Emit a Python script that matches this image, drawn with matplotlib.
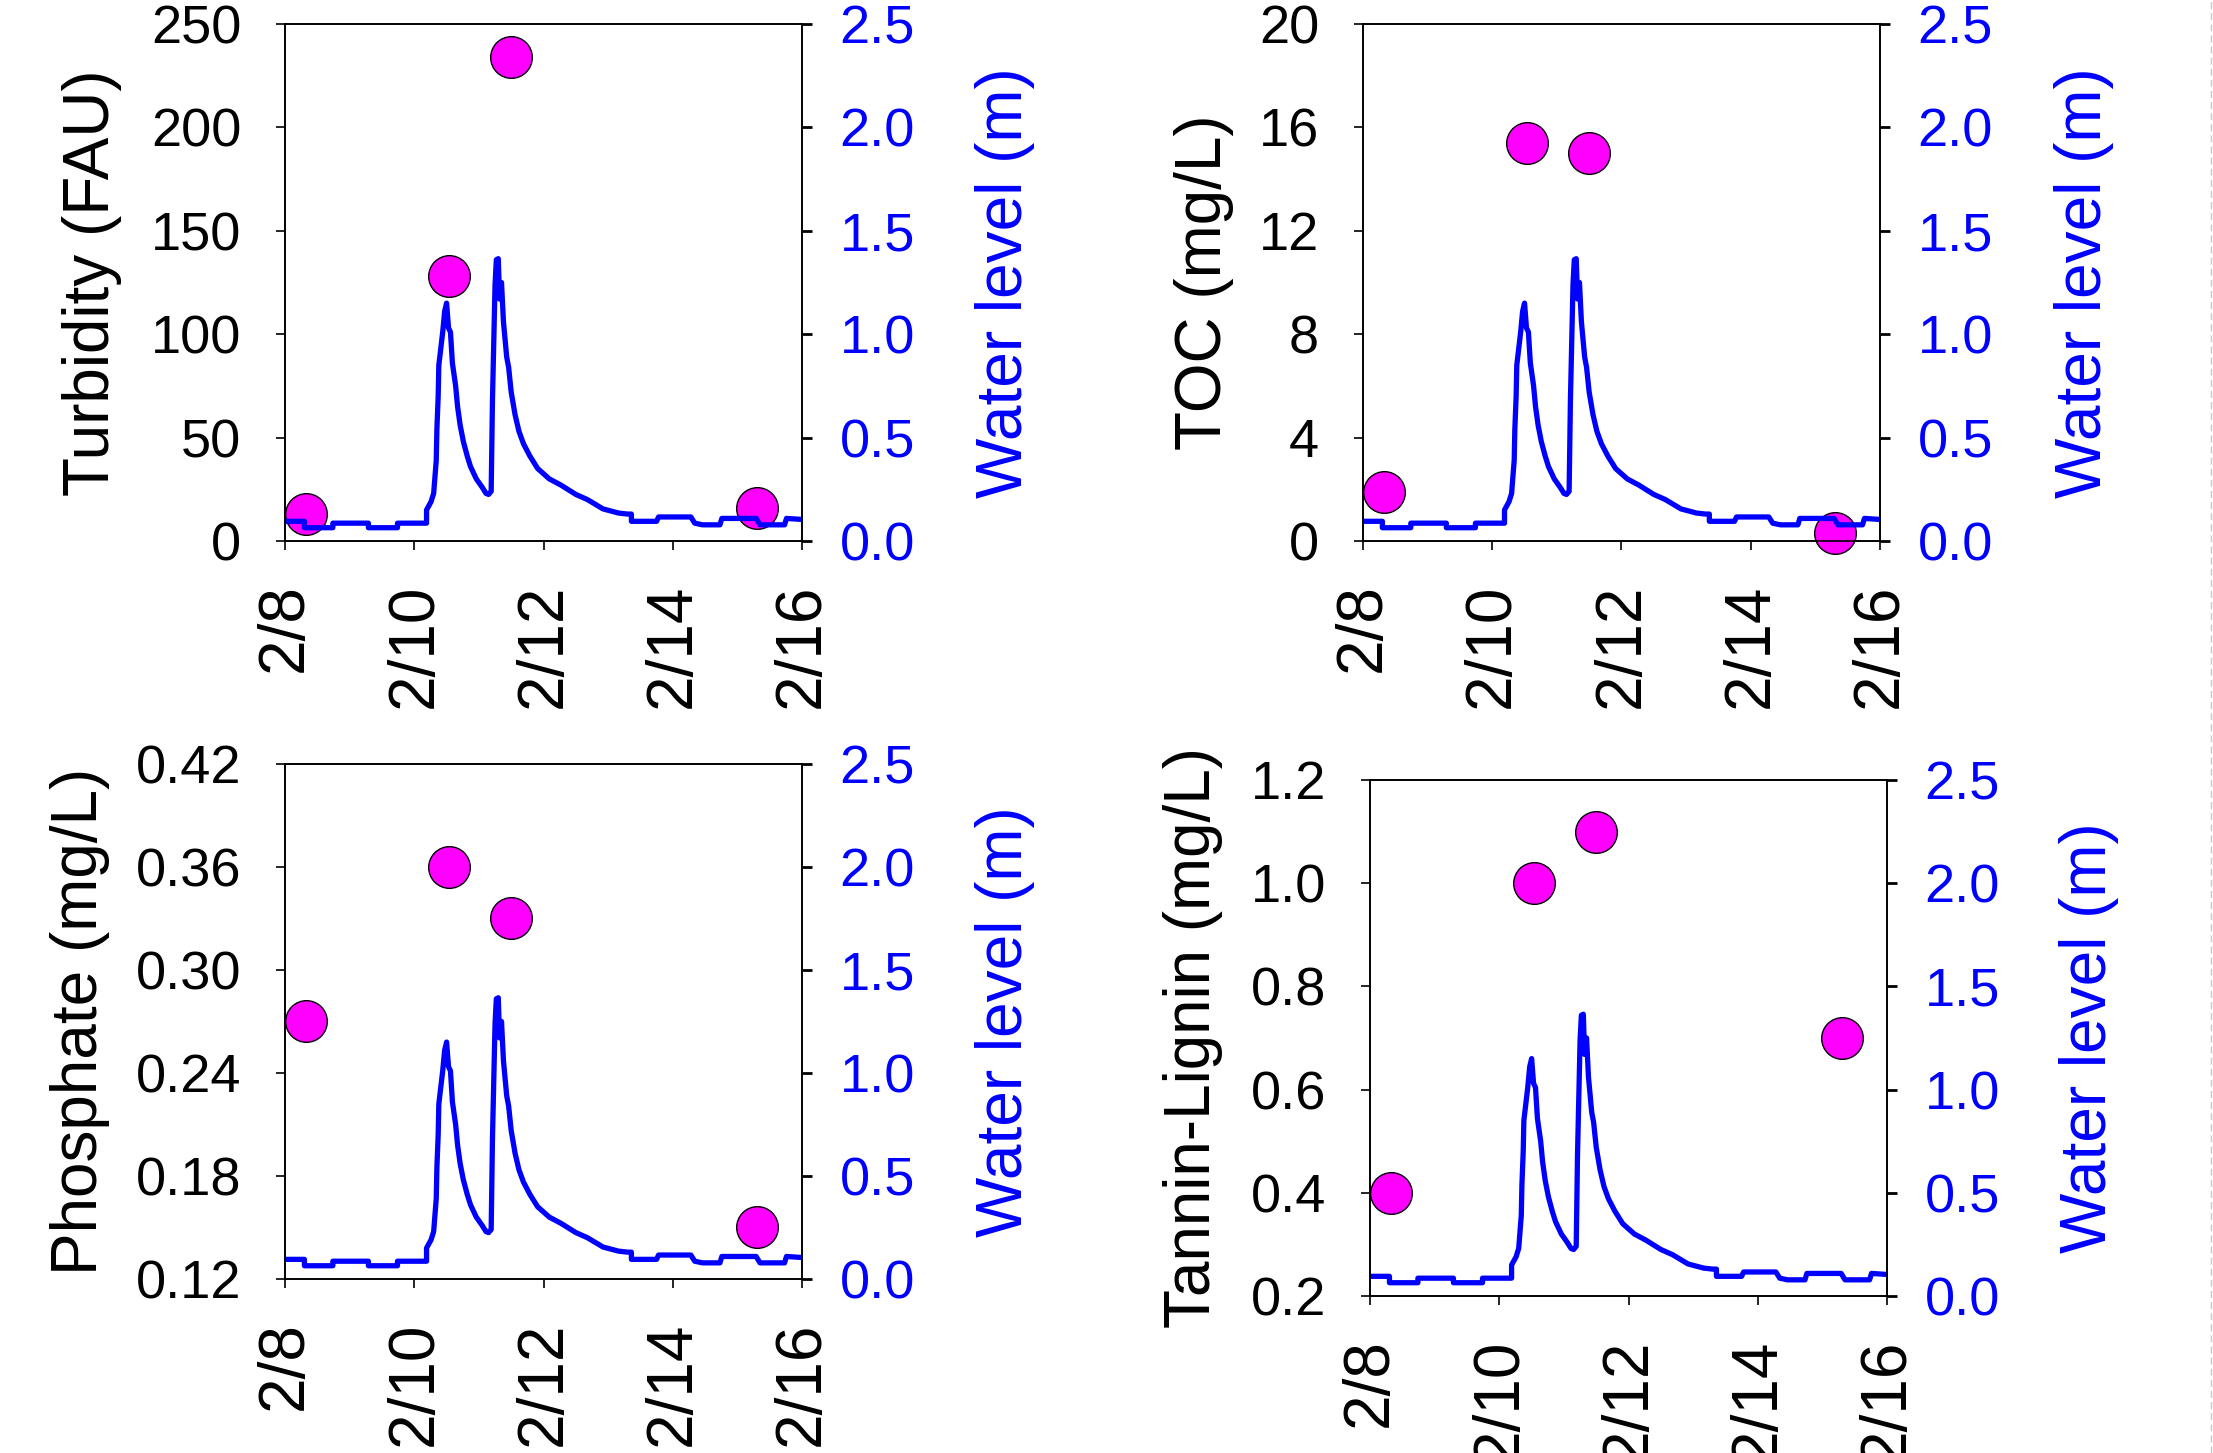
import matplotlib
matplotlib.use("Agg")
import matplotlib.pyplot as plt
from matplotlib.lines import Line2D
from matplotlib.ticker import FormatStrFormatter

plt.rcParams['font.family'] = ['Liberation Sans', 'DejaVu Sans']

# water level record (day of February, m)
wl_day = [7.99, 8.30, 8.30, 8.74, 8.74, 9.29, 9.29, 9.74, 9.74, 10.19, 10.19, 10.26,
          10.30, 10.34, 10.35, 10.37, 10.38, 10.41, 10.44, 10.47, 10.50, 10.53, 10.56,
          10.59, 10.64, 10.67, 10.71, 10.76, 10.82, 10.87, 10.96, 11.05, 11.11, 11.15,
          11.19, 11.21, 11.25, 11.27, 11.30, 11.32, 11.35, 11.38, 11.43, 11.46, 11.50,
          11.56, 11.62, 11.69, 11.79, 11.91, 12.09, 12.27, 12.50, 12.68, 12.92, 13.16,
          13.30, 13.36, 13.36, 13.75, 13.78, 14.28, 14.34, 14.46, 14.73, 14.76, 15.29,
          15.35, 15.73, 15.76, 16.00]
wl_m = [0.095, 0.095, 0.064, 0.064, 0.086, 0.086, 0.064, 0.064, 0.086, 0.086, 0.15, 0.19,
        0.23, 0.39, 0.54, 0.70, 0.85, 0.93, 1.01, 1.11, 1.15, 1.03, 1.01,
        0.86, 0.75, 0.65, 0.56, 0.48, 0.41, 0.36, 0.30, 0.26, 0.23, 0.225,
        0.24, 0.68, 1.24, 1.36, 1.365, 1.17, 1.25, 1.06, 0.89, 0.84, 0.72,
        0.61, 0.53, 0.47, 0.41, 0.35, 0.30, 0.27, 0.225, 0.20, 0.155, 0.135,
        0.13, 0.13, 0.095, 0.095, 0.116, 0.116, 0.086, 0.078, 0.078, 0.109, 0.109,
        0.078, 0.078, 0.109, 0.104]

# grab samples
sample_day = [8.33, 10.54, 11.49, 15.31]
turbidity = [13, 128, 234, 16]
toc = [1.9, 15.4, 15.0, 0.3]
phosphate = [0.27, 0.36, 0.33, 0.15]
tannin = [0.40, 1.00, 1.10, 0.70]

xticks = [8, 10, 12, 14, 16]
xticklabels = ['2/8', '2/10', '2/12', '2/14', '2/16']
wl_ticks = [0.0, 0.5, 1.0, 1.5, 2.0, 2.5]

panels = [
    # values, label, ticks, fmt, rect, left label x, right label x
    (turbidity, 'Turbidity (FAU)', [0, 50, 100, 150, 200, 250], '%d',
     [0.1288, 0.6277, 0.2336, 0.3558], -0.373, 1.393),
    (toc, 'TOC (mg/L)', [0, 4, 8, 12, 16, 20], '%d',
     [0.6159, 0.6277, 0.2336, 0.3558], -0.307, 1.394),
    (phosphate, 'Phosphate (mg/L)', [0.12, 0.18, 0.24, 0.30, 0.36, 0.42], '%.2f',
     [0.1288, 0.1198, 0.2336, 0.3544], -0.397, 1.393),
    (tannin, 'Tannin-Lignin (mg/L)', [0.2, 0.4, 0.6, 0.8, 1.0, 1.2], '%.1f',
     [0.6191, 0.1081, 0.2336, 0.3551], -0.342, 1.39),
]

fig = plt.figure(figsize=(22.13, 14.53), dpi=100)

for vals, label, yt, fmt, rect, lx, rx in panels:
    ax = fig.add_axes(rect)
    ax.plot(sample_day, vals, 'o', ms=30, mfc='#FF00FF', mec='black', mew=1.0,
            clip_on=False, zorder=3)
    ax.set_xlim(8, 16)
    ax.set_ylim(yt[0], yt[-1])
    ax.set_yticks(yt)
    ax.yaxis.set_major_formatter(FormatStrFormatter(fmt))
    ax.set_xticks(xticks)
    ax.set_xticklabels(xticklabels, rotation=90)
    ax.tick_params(axis='y', direction='out', length=6.5, width=1.2, labelsize=39, pad=25)
    ax.tick_params(axis='x', direction='out', length=6.5, width=1.2, labelsize=46, pad=24)
    ax.set_ylabel(label, fontsize=46, va='center')
    ax.yaxis.set_label_coords(lx, 0.5)
    for s in ax.spines.values():
        s.set_linewidth(1.2)

    ax2 = ax.twinx()
    ax2.plot(wl_day, wl_m, color='#0000FF', lw=3.8)
    ax2.set_ylim(0, 2.5)
    ax2.set_yticks(wl_ticks)
    ax2.yaxis.set_major_formatter(FormatStrFormatter('%.1f'))
    ax2.tick_params(axis='y', direction='out', length=7, width=2, labelsize=39,
                    pad=20, labelcolor='#0000FF', color='black')
    ax2.set_ylabel('Water level (m)', fontsize=46, color='#0000FF', va='center')
    ax2.yaxis.set_label_coords(rx, 0.5)
    for s in ax2.spines.values():
        s.set_linewidth(1.2)

# faint dashed border at the right edge
fig.add_artist(Line2D([0.9993, 0.9993], [0, 1], transform=fig.transFigure,
                      color='#c8c8c8', lw=1, ls=(0, (5, 3))))

fig.savefig('out.png', dpi=100)
